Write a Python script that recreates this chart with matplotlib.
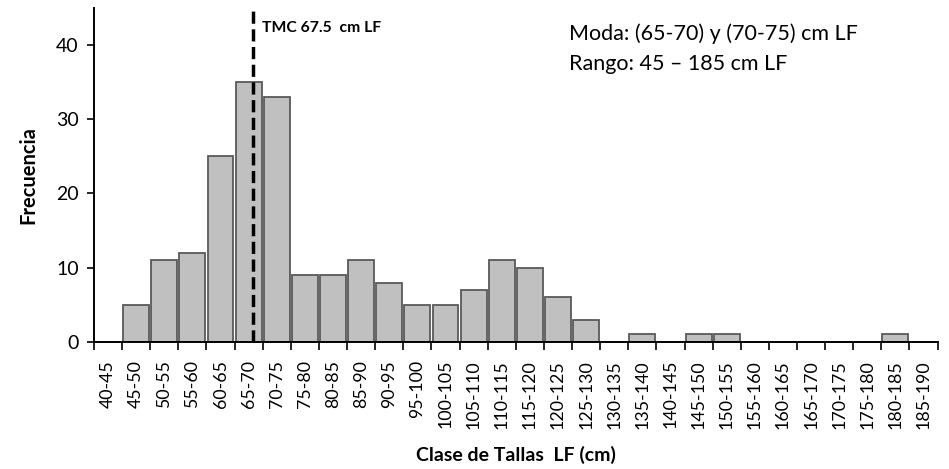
import numpy as np
import matplotlib.pyplot as plt

# Clases de talla (cm LF) y frecuencias
clases = ['40-45', '45-50', '50-55', '55-60', '60-65', '65-70', '70-75', '75-80',
          '80-85', '85-90', '90-95', '95-100', '100-105', '105-110', '110-115',
          '115-120', '120-125', '125-130', '130-135', '135-140', '140-145',
          '145-150', '150-155', '155-160', '160-165', '165-170', '170-175',
          '175-180', '180-185', '185-190']
frecuencia = [0, 5, 11, 12, 25, 35, 33, 9, 9, 11, 8, 5, 5, 7, 11, 10, 6, 3,
              0, 1, 0, 1, 1, 0, 0, 0, 0, 0, 1, 0]
tmc_pos = 5.17  # posicion de la linea TMC 67.5 cm en el eje de clases

plt.rcParams['font.family'] = ['Lato', 'DejaVu Sans']

fig = plt.figure(figsize=(9.49, 4.69), dpi=100)
ax = fig.add_axes([0.099, 0.271, 0.889, 0.712])

x = np.arange(len(clases))
ax.bar(x, frecuencia, width=0.92, color='#c0c0c0', edgecolor='#595959', linewidth=1.3, zorder=2)
ax.axvline(tmc_pos, color='black', linestyle=(0, (3.5, 1.6)), linewidth=2.5, zorder=3)

ax.set_xlim(-0.5, len(clases) - 0.5)
ax.set_ylim(0, 45)
ax.set_yticks([0, 10, 20, 30, 40])
ax.tick_params(axis='y', labelsize=14, length=5, width=1.2, direction='out', pad=6)

ax.set_xticks(np.arange(len(clases) + 1) - 0.5)
ax.set_xticklabels([])
ax.set_xticks(x, minor=True)
ax.set_xticklabels(clases, minor=True, rotation=90, fontsize=12.8)
ax.tick_params(axis='x', which='major', length=6, width=1.2, direction='out')
ax.tick_params(axis='x', which='minor', length=0, pad=13)

for s in ['top', 'right']:
    ax.spines[s].set_visible(False)
for s in ['left', 'bottom']:
    ax.spines[s].set_linewidth(1.4)

ax.set_ylabel('Frecuencia', fontsize=14.5, fontweight='bold')
ax.yaxis.set_label_coords(-0.066, 0.5)
ax.set_xlabel('Clase de Tallas  LF (cm)', fontsize=14, fontweight='bold')
ax.xaxis.set_label_coords(0.5, -0.312)

ax.text(tmc_pos + 0.3, 42.3, 'TMC 67.5  cm LF', fontsize=11.3, fontweight='bold', va='center')
ax.text(16.39, 41.5, 'Moda: (65-70) y (70-75) cm LF', fontsize=15.5, va='center')
ax.text(16.39, 37.4, 'Rango: 45 – 185 cm LF', fontsize=15.5, va='center')

fig.savefig('out.png', dpi=100)
